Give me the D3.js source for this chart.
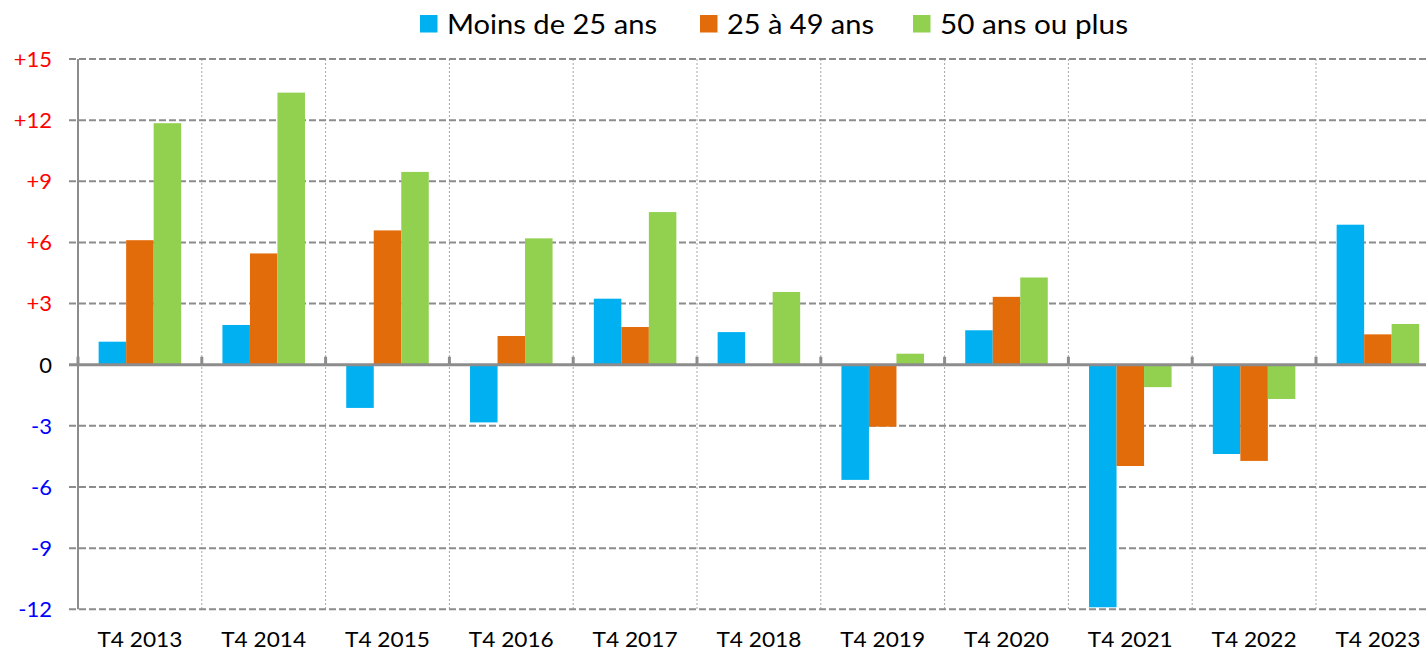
<!DOCTYPE html>
<html>
<head>
<meta charset="utf-8">
<script src="https://cdn.jsdelivr.net/npm/d3@7"></script>
<style>
  html, body { margin: 0; padding: 0; background: #fff; }
  svg { display: block; font-family: Lato, "Open Sans", sans-serif; }
</style>
</head>
<body>
<svg id="chart" width="1426" height="654"></svg>
<script>
const categories = ["T4 2013","T4 2014","T4 2015","T4 2016","T4 2017","T4 2018","T4 2019","T4 2020","T4 2021","T4 2022","T4 2023"];
const seriesNames = ["Moins de 25 ans","25 à 49 ans","50 ans ou plus"];
const under25 = [1.13, 1.95, -2.12, -2.83, 3.24, 1.6, -5.65, 1.69, -11.9, -4.38, 6.87];
const age25to49 = [6.11, 5.46, 6.59, 1.41, 1.85, 0.0, -3.04, 3.33, -4.97, -4.72, 1.49];
const over50 = [11.85, 13.35, 9.46, 6.2, 7.49, 3.57, 0.54, 4.28, -1.1, -1.68, 2.0];
const yTicks = [-12, -9, -6, -3, 0, 3, 6, 9, 12, 15];
const yTickLabels = ["-12","-9","-6","-3","0","+3","+6","+9","+12","+15"];
const colors = ["#00B0F0", "#E36C0A", "#92D050"];

const seriesValues = [under25, age25to49, over50];

const svg = d3.select("#chart");
const left = 78, step = 123.8;
const x = d3.scaleBand().domain(categories).range([left, left + step * categories.length]).padding(0);
const xs = d3.scaleBand().domain(seriesNames).range([step / 6, step * 5 / 6]).padding(0);
const y = d3.scaleLinear().domain([-12, 15]).range([609.3, 59]);

const gridColor = "#8c8c8c";

// vertical dotted gridlines at category boundaries
const bounds = categories.map((c) => x(c)).concat([x(categories[categories.length - 1]) + x.bandwidth()]);
svg.append("g").selectAll("line").data(bounds.slice(1)).join("line")
  .attr("x1", d => d).attr("x2", d => d)
  .attr("y1", y(15)).attr("y2", y(-12))
  .attr("stroke", "#a6a6a6").attr("stroke-width", 1).attr("stroke-dasharray", "2,2");

// horizontal dashed gridlines
svg.append("g").selectAll("line").data(yTicks.filter(t => t !== 0)).join("line")
  .attr("x1", left - 9).attr("x2", 1426)
  .attr("y1", d => y(d)).attr("y2", d => y(d))
  .attr("stroke", gridColor).attr("stroke-width", 2).attr("stroke-dasharray", "7,3");

// bars
const groups = svg.append("g").selectAll("g").data(categories).join("g")
  .attr("transform", c => `translate(${x(c)},0)`);
groups.selectAll("rect").data((c, i) => seriesNames.map((s, j) => ({s, j, v: seriesValues[j][i]}))).join("rect")
  .attr("x", d => xs(d.s))
  .attr("width", xs.bandwidth())
  .attr("y", d => Math.min(y(0), y(d.v)))
  .attr("height", d => Math.abs(y(d.v) - y(0)))
  .attr("fill", d => colors[d.j]);

// y axis line
svg.append("line").attr("x1", left).attr("x2", left).attr("y1", y(15)).attr("y2", y(-12))
  .attr("stroke", gridColor).attr("stroke-width", 2);

// zero line
svg.append("line").attr("x1", left - 9).attr("x2", 1426).attr("y1", y(0)).attr("y2", y(0))
  .attr("stroke", gridColor).attr("stroke-width", 3);

// small upward ticks at category boundaries on zero line
svg.append("g").selectAll("line").data(bounds).join("line")
  .attr("x1", d => d).attr("x2", d => d)
  .attr("y1", y(0) - 8).attr("y2", y(0))
  .attr("stroke", gridColor).attr("stroke-width", 3);

// y tick labels
svg.append("g").selectAll("text").data(yTicks).join("text")
  .attr("x", 52).attr("y", d => y(d)).attr("dy", "0.36em")
  .attr("text-anchor", "end")
  .attr("font-size", 22)
  .attr("fill", d => d > 0 ? "#FF0000" : (d < 0 ? "#0000FF" : "#000000"))
  .text((d, i) => yTickLabels[i]);

// x labels
svg.append("g").selectAll("text").data(categories).join("text")
  .attr("x", c => x(c) + x.bandwidth() / 2).attr("y", 647)
  .attr("text-anchor", "middle")
  .attr("font-size", 22)
  .attr("textLength", 85).attr("lengthAdjust", "spacingAndGlyphs")
  .attr("fill", "#000")
  .text(c => c);

// legend
const legend = svg.append("g");
const legendX = [420, 700, 913];
const legendW = [210, 147, 188];
seriesNames.forEach((s, j) => {
  legend.append("rect").attr("x", legendX[j]).attr("y", 15).attr("width", 17.5).attr("height", 17.5).attr("fill", colors[j]);
  legend.append("text").attr("x", legendX[j] + 27).attr("y", 33.5).attr("font-size", 27)
    .attr("textLength", legendW[j]).attr("lengthAdjust", "spacingAndGlyphs")
    .attr("fill", "#000").text(s);
});
</script>
</body>
</html>
